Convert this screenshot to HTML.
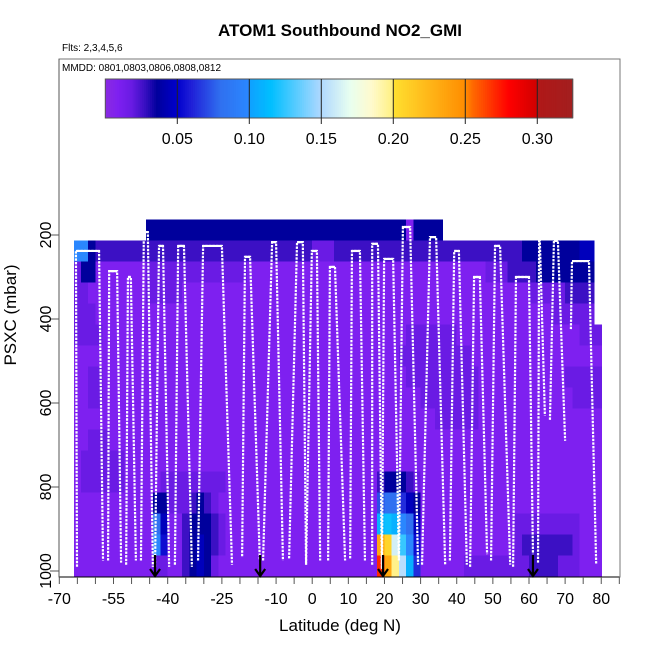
<!DOCTYPE html>
<html><head><meta charset="utf-8"><style>
html,body{margin:0;padding:0;background:#fff;}
svg{display:block;font-family:"Liberation Sans",Arial,sans-serif;}
</style></head><body>
<svg id="chart" width="650" height="650" viewBox="0 0 650 650" xmlns="http://www.w3.org/2000/svg">
<text x="340" y="36" text-anchor="middle" font-size="17" font-weight="bold">ATOM1 Southbound NO2_GMI</text>
<text x="62" y="51" font-size="10">Flts: 2,3,4,5,6</text>
<rect x="59" y="59" width="561" height="518" fill="none" stroke="#777" stroke-width="1"/>
<text x="62" y="71" font-size="10">MMDD: 0801,0803,0806,0808,0812</text>
<g id="heat" shape-rendering="crispEdges"></g>
<g id="track"></g>
<g id="arrows"></g>
<g id="cbar"></g>
<g id="xaxis"></g>
<g id="yaxis"></g>
<text x="340" y="631" text-anchor="middle" font-size="17">Latitude (deg N)</text>
<text transform="translate(16,315) rotate(-90)" text-anchor="middle" font-size="17">PSXC (mbar)</text>
</svg>
<script>
// ---- data ----
const gridLatStart = -66;      // deg N, first column edge
const gridLatStep = 2;         // deg per column
const gridPTop = 162.5;        // mbar, top edge of first row
const gridPStep = 50;          // mbar per row
// level code: base-36 digit * 0.009 = NO2 value; '.' = no data
const gridRows = [
".........." + "4444444444" + "4444444444" + "4444444444" + "44444414444" + "......................",
"bb43333333" + "3333333333" + "3333333333" + "3332223333" + "3333333333" + "3333333333" + "334444444455" + ".",
"2441111111" + "2222222222" + "2222111111" + "1111111111" + "1111111111" + "1111111222" + "333344444444" + ".",
"2211111111" + "2222211111" + "1111111111" + "1111111111" + "1111111111" + "1111111111" + "111222223333" + ".",
"2221111111" + "1111111111" + "1111111111" + "1111111111" + "1111111111" + "1111111111" + "111111222222" + ".",
"2222111111" + "1111111111" + "1111111111" + "1111111111" + "1111112222" + "2221111111" + "1111111111222",
"1111111111" + "1111111111" + "1111111111" + "1111111111" + "1111122222" + "2222211111" + "1111111111111",
"1122111111" + "1111111111" + "1111111111" + "1111111111" + "1111112222" + "2222221111" + "1111111122222",
"1122111111" + "1111111111" + "1111111111" + "1111111111" + "1111111122" + "2222221111" + "1111111112222",
"1111111111" + "1111111111" + "1111111111" + "1111111111" + "1111111111" + "2222221111" + "1111111111111",
"1122211111" + "1111111111" + "1111111111" + "1111111111" + "1111111111" + "1111111111" + "1111111111111",
"1222222111" + "1111111111" + "1111111111" + "1111111111" + "1111111111" + "1111111111" + "1111111111111",
"1222222111" + "1122222222" + "2111111111" + "1111111111" + "1134443211" + "1111111111" + "1111111111111",
"1111111111" + "1442223432" + "1111111111" + "1111111111" + "1189975411" + "1111111111" + "1111111111111",
"1111111111" + "1951134443" + "2111111111" + "1111111111" + "11cdcb9511" + "1111111111" + "1222222222111",
"1111111111" + "1b61134543" + "2111111111" + "1111111111" + "11qnieb611" + "1111111111" + "1233333332111",
"1111111111" + "1221134542" + "1111111111" + "1111111111" + "11uqmhc711" + "1111222222" + "2223333222111"
];
const levelUnit = 0.009;
// flight profiles (lat deg N, pressure mbar)
const legLatL = [-65.1,-56.5,-51.5,-47.4,-43.5,-38.0,-31.6,-19.4,-13.6,-6.4,-1.7,4.4,10.5,16.6,19.3,24.0,30.4,38.1,43.7,49.5,55.6,62.5,65.8,71.6];
const topLatL = [-65.4,-56.2,-51.0,-46.6,-42.4,-37.1,-30.2,-18.6,-11.1,-4.2,-0.1,4.9,11.0,16.6,19.9,25.1,32.6,39.3,44.8,50.6,56.4,62.8,66.9,71.9];
const topLatR = [-59.0,-54.0,-50.2,-45.5,-41.3,-35.5,-25.0,-17.2,-10.0,-2.6,1.3,6.3,13.2,18.2,22.4,27.1,34.3,40.6,46.4,52.0,60.0,63.0,68.0,76.6];
const legLatR = [-57.9,-52.9,-48.8,-44.1,-39.6,-33.3,-22.2,-14.5,-8.1,-1.7,2.2,9.1,14.6,19.3,24.0,29.3,36.8,42.8,48.4,54.8,61.1,64.4,70.0,78.6];
const topP   = [238,286,300,193,226,226,226,252,217,217,238,276,238,221,257,181,205,238,300,226,300,214,214,262];
const botPL  = [990,975,985,975,990,985,975,965,975,970,985,975,970,985,995,975,985,975,990,975,990,980,640,424];
const botPR  = [975,980,975,990,990,990,985,975,975,985,975,975,975,995,975,985,985,985,960,985,960,630,690,985];
const arrowLats = [-43.5,-14.4,19.6,61.1];
const xTickVals = [-70,-65,-60,-55,-50,-45,-40,-35,-30,-25,-20,-15,-10,-5,0,5,10,15,20,25,30,35,40,45,50,55,60,65,70,75,80,85];
const xTickLabels = ["-70","-55","-40","-25","-10","0","10","20","30","40","50","60","70","80"];
const yTickVals = [200,400,600,800,1000];
const cbarTicks = [0.05,0.10,0.15,0.20,0.25,0.30];
const cbarMax = 0.3246;

// ---- scales ----
const NS="http://www.w3.org/2000/svg";
const xS = lat => 59.3 + (lat + 70) * 3.613;
const yS = p => 235 + (p - 200) * 0.42;
const cbX = v => 105.3 + v / cbarMax * (572.7 - 105.3);
const stops = [[0,'#8a2be2'],[0.009,'#7e20f0'],[0.018,'#6a1be4'],[0.027,'#3c10c4'],[0.036,'#00009c'],[0.05,'#0000cd'],[0.06,'#2020d8'],[0.08,'#3070f0'],[0.0999,'#2a88ff'],[0.1,'#10a0ff'],[0.115,'#00bfff'],[0.15,'#b0d8ff'],[0.17,'#e8fff0'],[0.185,'#fffacd'],[0.1999,'#fff080'],[0.2,'#ffe030'],[0.25,'#ff8c00'],[0.255,'#ff6a00'],[0.28,'#ff0000'],[0.2999,'#d00000'],[0.3,'#b01818'],[0.33,'#a02020']];
function hex(h){return [1,3,5].map(i=>parseInt(h.substr(i,2),16));}
function color(v){
  for(let i=1;i<stops.length;i++){
    if(v<=stops[i][0]){const [a,ca]=stops[i-1],[b,cb]=stops[i];const t=b>a?(v-a)/(b-a):0;
      const A=hex(ca),B=hex(cb);return 'rgb('+A.map((q,k)=>Math.round(q+(B[k]-q)*t)).join(',')+')';}
  }
  return stops[stops.length-1][1];
}
function mk(tag,attrs,parent){const e=document.createElementNS(NS,tag);for(const k in attrs)e.setAttribute(k,attrs[k]);parent.appendChild(e);return e;}

// ---- heatmap ----
const heat=document.getElementById('heat');
gridRows.forEach((row,r)=>{
  const y0=yS(gridPTop+r*gridPStep), y1=yS(gridPTop+(r+1)*gridPStep);
  for(let c=0;c<row.length;c++){
    const ch=row[c]; if(ch==='.')continue;
    const v=parseInt(ch,36)*levelUnit;
    const x0=xS(gridLatStart+c*gridLatStep), x1=xS(gridLatStart+(c+1)*gridLatStep);
    const el=mk('rect',{x:x0.toFixed(2),y:y0.toFixed(2),width:(x1-x0+0.6).toFixed(2),height:(y1-y0+0.6).toFixed(2),fill:color(v)},heat);
    
    
  }
});

// ---- flight track ----
const track=document.getElementById('track');
for(let i=0;i<topP.length;i++){
  const d='M'+xS(legLatL[i])+','+yS(botPL[i])+' L'+xS(topLatL[i])+','+yS(topP[i])+' L'+xS(topLatR[i])+','+yS(topP[i])+' L'+xS(legLatR[i])+','+yS(botPR[i]);
  const el=mk('path',{d:d,fill:'none',stroke:'#fff','stroke-width':2.2,'stroke-dasharray':'2.4 1.2'},track);
  
  
  const t=mk('line',{x1:xS(topLatL[i]),y1:yS(topP[i]),x2:xS(topLatR[i]),y2:yS(topP[i]),stroke:'#fff','stroke-width':2.2},track);
  
  
}

// ---- arrows ----
const arrows=document.getElementById('arrows');
arrowLats.forEach(l=>{
  const x=xS(l);
  const el=mk('path',{d:'M'+x+',555 L'+x+',576 M'+(x-5)+',569 L'+x+',576 L'+(x+5)+',569',fill:'none',stroke:'#000','stroke-width':2.2},arrows);
  
  
});

// ---- colorbar ----
const cb=document.getElementById('cbar');
const N=240;
for(let i=0;i<N;i++){
  const v0=cbarMax*i/N, v1=cbarMax*(i+1)/N;
  const el=mk('rect',{x:cbX(v0),y:79,width:cbX(v1)-cbX(v0)+0.5,height:39,fill:color((v0+v1)/2)},cb);
  
  
}
mk('rect',{x:105.3,y:79,width:467.4,height:39,fill:'none',stroke:'#555','stroke-width':1},cb);
cbarTicks.forEach(v=>{
  const x=cbX(v);
  const ln=mk('line',{x1:x,y1:79,x2:x,y2:124,stroke:'#222','stroke-width':1},cb);
  
  
  const t=mk('text',{x:x,y:144,'text-anchor':'middle','font-size':16},cb);
  t.textContent=v.toFixed(2);
  
  
});

// ---- axes ----
const xa=document.getElementById('xaxis');
mk('line',{x1:xS(-70),y1:577,x2:xS(85),y2:577,stroke:'#000','stroke-width':1},xa);
xTickVals.forEach(v=>{
  const el=mk('line',{x1:xS(v),y1:577,x2:xS(v),y2:584,stroke:'#555','stroke-width':1},xa);
  
  
});
xTickLabels.forEach(s=>{
  const t=mk('text',{x:xS(+s),y:604,'text-anchor':'middle','font-size':16},xa);
  t.textContent=s;
  
  
});
const ya=document.getElementById('yaxis');
mk('line',{x1:59,y1:59,x2:59,y2:577,stroke:'#555','stroke-width':1},ya);
yTickVals.forEach(v=>{
  const y=yS(v);
  const el=mk('line',{x1:50,y1:y,x2:59,y2:y,stroke:'#555','stroke-width':1},ya);
  
  
  const t=mk('text',{transform:'translate(51,'+y+') rotate(-90)','text-anchor':'middle','font-size':16},ya);
  t.textContent=String(v);
  
  
});
</script>
</body></html>
